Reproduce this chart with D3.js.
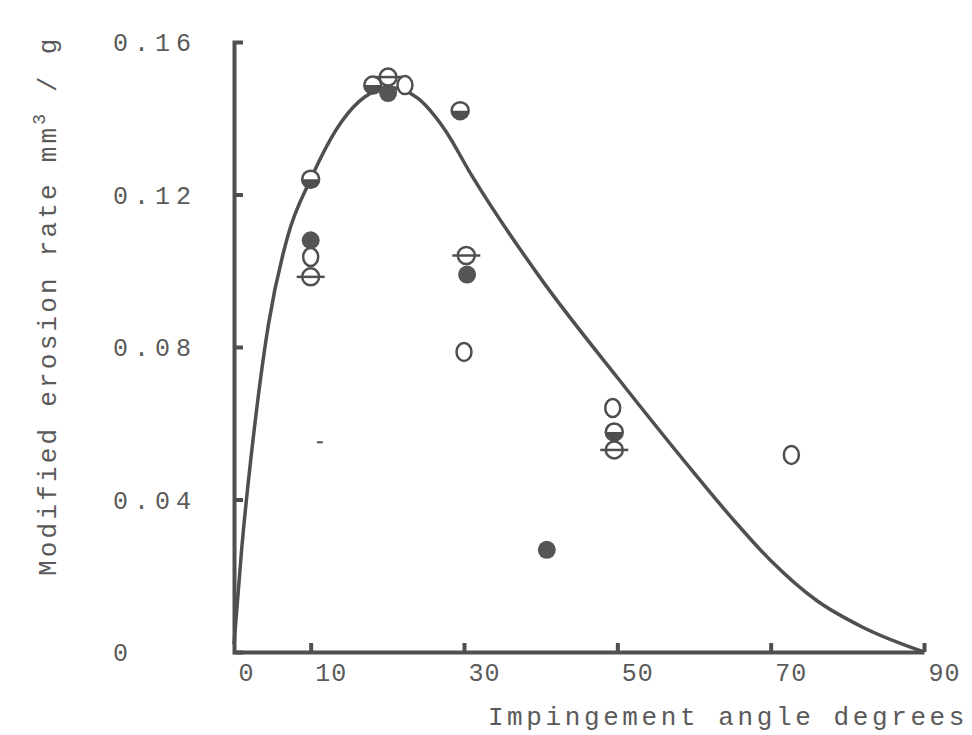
<!DOCTYPE html>
<html>
<head>
<meta charset="utf-8">
<script src="https://cdn.jsdelivr.net/npm/d3@7"></script>
<style>
  body { margin: 0; background: #fff; }
  svg { display: block; }
  .axis path, .axis line { stroke: #4f4f4f; stroke-width: 4; }
  .axis text { font-family: "Liberation Mono", "DejaVu Sans Mono", monospace; fill: #5a5a5a; }
</style>
</head>
<body>
<div id="chart"></div>
<script>
// Width and height
var w = 972;
var h = 735;

// Tick values for the axes
var xTicks = [0, 10, 30, 50, 70, 90];
var yTicks = [0, 0.04, 0.08, 0.12, 0.16];

// Fitted curve (angle, erosion rate)
var curveX = [0, 1, 2.5, 4.5, 7, 10, 14, 17, 20.5, 24, 27.5, 31, 40, 50, 60, 65, 70, 76, 82, 90];
var curveY = [0.002, 0.027, 0.056, 0.086, 0.109, 0.124, 0.139, 0.1455, 0.148, 0.1452, 0.137, 0.125, 0.098, 0.072, 0.047, 0.035, 0.024, 0.0135, 0.0065, 0];

// Open circles
var openX = [10, 22.3, 30, 49.4, 72.7];
var openY = [0.1036, 0.1487, 0.0787, 0.064, 0.0517];

// Half filled circles (lower half dark)
var halfX = [10, 18.1, 29.5, 49.6];
var halfY = [0.124, 0.1487, 0.142, 0.0577];

// Filled circles
var filledX = [10, 20.1, 30.4, 40.8];
var filledY = [0.108, 0.1466, 0.099, 0.0268];

// Circles with a bar through them
var barX = [10, 20.1, 30.3, 49.6];
var barY = [0.0984, 0.1508, 0.104, 0.053];

// Single dash mark
var dashX = [11.2];
var dashY = [0.055];

var ink = "#4f4f4f";
var font = '"Liberation Mono", "DejaVu Sans Mono", monospace';

var svg = d3
  .select("#chart")
  .append("svg")
  .attr("width", w)
  .attr("height", h);

//scale functions
var xScale = d3.scaleLinear().domain([0, 90]).range([234, 924]);
var yScale = d3.scaleLinear().domain([0, 0.16]).range([652, 42]);

function pairs(xs, ys) {
  return xs.map(function (d, i) {
    return [d, ys[i]];
  });
}

// x axis
var xAxis = d3
  .axisBottom(xScale)
  .tickValues(xTicks)
  .tickSizeInner(-9)
  .tickSizeOuter(0)
  .tickFormat(d3.format("d"));

var gx = svg
  .append("g")
  .attr("class", "x axis")
  .attr("transform", "translate(0,652)")
  .call(xAxis);

gx.selectAll(".tick text")
  .attr("text-anchor", "start")
  .attr("x", 4)
  .attr("y", 29)
  .attr("dy", 0)
  .style("font-size", "25px")
  .style("letter-spacing", "1px");
gx.selectAll(".tick line").filter(function (d) { return d === 0; }).remove();

// y axis
var yAxis = d3
  .axisLeft(yScale)
  .tickValues(yTicks)
  .tickSizeInner(-9)
  .tickSizeOuter(-9)
  .tickFormat(function (d) {
    return d === 0 ? "0" : d3.format(".2f")(d);
  });

var gy = svg
  .append("g")
  .attr("class", "y axis")
  .attr("transform", "translate(234,0)")
  .call(yAxis);

gy.selectAll(".tick text")
  .attr("text-anchor", "start")
  .attr("x", -121)
  .attr("dy", "0.35em")
  .style("font-size", "25px")
  .style("letter-spacing", "6px");
gy.selectAll(".tick line").filter(function (d) { return d === 0 || d === 0.16; }).remove();

// fitted curve
var line = d3
  .line()
  .x(function (d) { return xScale(d[0]); })
  .y(function (d) { return yScale(d[1]); })
  .curve(d3.curveMonotoneX);

svg
  .append("path")
  .datum(pairs(curveX, curveY))
  .attr("d", line)
  .attr("fill", "none")
  .attr("stroke", ink)
  .attr("stroke-width", 3.5);

var r = 8.5;

// open markers, typed O look
svg
  .selectAll("ellipse.open")
  .data(pairs(openX, openY))
  .enter()
  .append("ellipse")
  .attr("class", "open")
  .attr("cx", function (d) { return xScale(d[0]); })
  .attr("cy", function (d) { return yScale(d[1]); })
  .attr("rx", 7.5)
  .attr("ry", 9)
  .attr("fill", "#fff")
  .attr("stroke", ink)
  .attr("stroke-width", 2.5);

// half filled markers
var half = svg
  .selectAll("g.half")
  .data(pairs(halfX, halfY))
  .enter()
  .append("g")
  .attr("class", "half")
  .attr("transform", function (d) {
    return "translate(" + xScale(d[0]) + "," + yScale(d[1]) + ")";
  });
half
  .append("circle")
  .attr("r", r)
  .attr("fill", "#fff")
  .attr("stroke", ink)
  .attr("stroke-width", 2.5);
half
  .append("path")
  .attr("d", "M" + -r + ",0 A" + r + "," + r + " 0 0 0 " + r + ",0 Z")
  .attr("fill", ink);

// filled markers
svg
  .selectAll("circle.filled")
  .data(pairs(filledX, filledY))
  .enter()
  .append("circle")
  .attr("class", "filled")
  .attr("cx", function (d) { return xScale(d[0]); })
  .attr("cy", function (d) { return yScale(d[1]); })
  .attr("r", 9)
  .attr("fill", "#555");

// circles with a bar
var bar = svg
  .selectAll("g.bar")
  .data(pairs(barX, barY))
  .enter()
  .append("g")
  .attr("class", "bar")
  .attr("transform", function (d) {
    return "translate(" + xScale(d[0]) + "," + yScale(d[1]) + ")";
  });
bar
  .append("circle")
  .attr("r", r)
  .attr("fill", "#fff")
  .attr("stroke", ink)
  .attr("stroke-width", 2.5);
bar
  .append("line")
  .attr("x1", -14)
  .attr("x2", 14)
  .attr("stroke", ink)
  .attr("stroke-width", 2.5);

// dash
svg
  .selectAll("line.dash")
  .data(pairs(dashX, dashY))
  .enter()
  .append("line")
  .attr("class", "dash")
  .attr("x1", function (d) { return xScale(d[0]) - 3; })
  .attr("x2", function (d) { return xScale(d[0]) + 3; })
  .attr("y1", function (d) { return yScale(d[1]); })
  .attr("y2", function (d) { return yScale(d[1]); })
  .attr("stroke", ink)
  .attr("stroke-width", 2);

// axis titles
svg
  .append("text")
  .attr("x", 968)
  .attr("y", 725)
  .attr("text-anchor", "end")
  .style("font-family", font)
  .style("font-size", "26px")
  .style("letter-spacing", "3.6px")
  .attr("fill", "#5a5a5a")
  .text("Impingement angle degrees");

var ylab = svg
  .append("text")
  .attr("transform", "translate(56,576) rotate(-90)")
  .attr("text-anchor", "start")
  .style("font-family", font)
  .style("font-size", "26px")
  .style("letter-spacing", "3.2px")
  .attr("fill", "#5a5a5a");
ylab.append("tspan").text("Modified erosion rate mm");
ylab.append("tspan").attr("dy", -11).style("font-size", "18px").text("3");
ylab.append("tspan").attr("dy", 11).text(" / g");
</script>
</body>
</html>
